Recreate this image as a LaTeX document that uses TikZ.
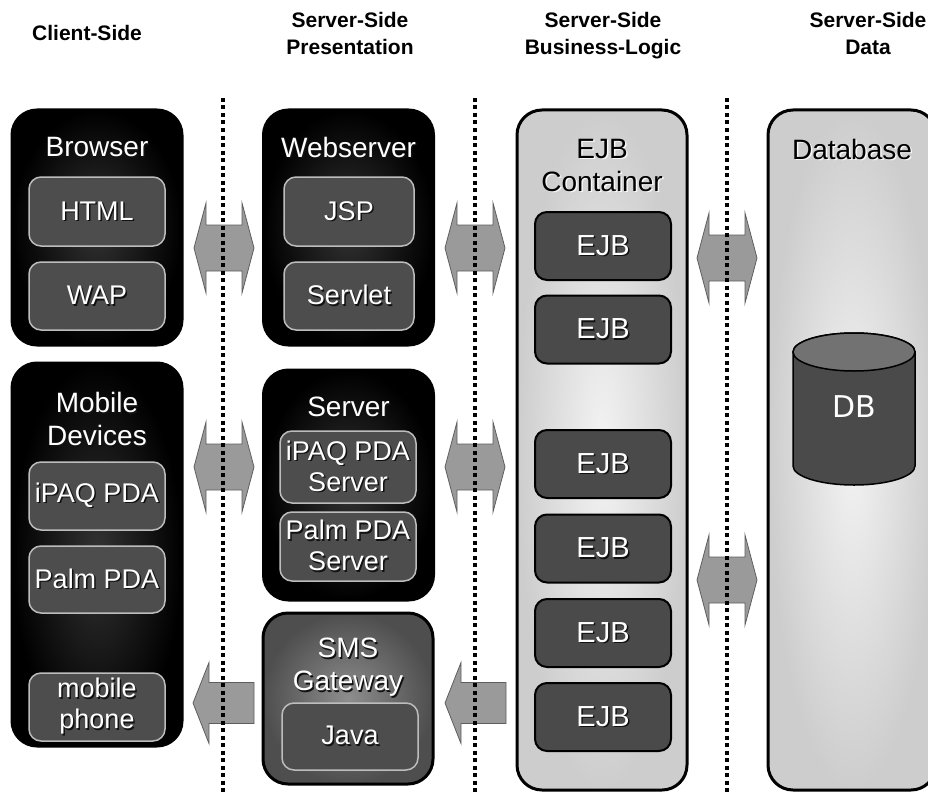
\documentclass[tikz,border=0pt]{standalone}
\usepackage{fontspec}
\setmainfont{Liberation Sans}
\newfontfamily\dbfont{DejaVu Sans}
\usetikzlibrary{calc}

\definecolor{darkcore}{HTML}{333333}
\definecolor{innerfill}{HTML}{4D4D4D}
\definecolor{innerline}{HTML}{BDBDBD}
\definecolor{smsouter}{HTML}{4E4E4E}
\definecolor{smsinner}{HTML}{8E8E8E}
\definecolor{lightouter}{HTML}{CDCDCD}
\definecolor{lightinner}{HTML}{F3F3F3}
\definecolor{ejbfill}{HTML}{4A4A4A}
\definecolor{arrowfill}{HTML}{9A9A9A}
\definecolor{arrowline}{HTML}{5E5E5E}
\definecolor{darkshadow}{HTML}{111111}
\definecolor{lightshadow}{HTML}{F8F8F8}
\definecolor{dbbody}{HTML}{4A4A4A}
\definecolor{dbtop}{HTML}{727272}

% text with a small drop shadow: #1 shadow colour, #2 text
\newcommand\shd[2]{\leavevmode\rlap{\kern1.5pt\raisebox{-1.5pt}{\textcolor{#1}{#2}}}#2}
\newcommand\wt[1]{\shd{darkshadow}{#1}}
\newcommand\bt[1]{\shd{lightshadow}{#1}}

\tikzset{
  tierbox/.style={draw=black, line width=3pt, rounded corners=25pt,
    minimum width=170pt},
  darkbox/.style={tierbox, inner color=darkcore, outer color=black},
  smsbox/.style={tierbox, inner color=smsinner, outer color=smsouter},
  lightbox/.style={tierbox, inner color=lightinner, outer color=lightouter},
  innerbox/.style={draw=innerline, line width=1.5pt, fill=innerfill,
    rounded corners=12pt, minimum width=136pt, text=white, align=center,
    inner sep=0pt, font=\fontsize{27pt}{31pt}\selectfont},
  ejbbox/.style={draw=black, line width=2pt, fill=ejbfill,
    rounded corners=12pt, minimum width=136pt, minimum height=68pt,
    text=white, inner sep=0pt, font=\fontsize{29pt}{31pt}\selectfont},
  title/.style={text=white, align=center, inner sep=0pt,
    font=\fontsize{28pt}{33pt}\selectfont},
  darktitle/.style={title, text=black},
  header/.style={align=center, inner sep=0pt,
    font=\fontsize{21pt}{27pt}\selectfont\bfseries},
  fatarrow/.style={fill=arrowfill, draw=arrowline, line width=0.8pt},
  sepline/.style={line width=3.5pt, dash pattern=on 4pt off 3.5pt},
  pics/dblarrow/.style={code={
    \draw[fatarrow] (-30,0) -- (-18,-45) -- (-18,-23) -- (18,-23)
      -- (18,-45) -- (30,0) -- (18,45) -- (18,23) -- (-18,23)
      -- (-18,45) -- cycle;}},
  pics/leftarrow/.style={code={
    \draw[fatarrow] (0,0) -- (16,-40.5) -- (16,-20.5) -- (61,-20.5)
      -- (61,20.5) -- (16,20.5) -- (16,40.5) -- cycle;}},
}

\begin{document}
\begin{tikzpicture}[x=1pt,y=-1pt]
\useasboundingbox (0,0) rectangle (928,797);

% column headers
\node[header] (hclient) at (87,33) {Client-Side};
\node[header] (hpres) at (350,33) {Server-Side\\Presentation};
\node[header] (hbiz) at (603,36) {Server-Side\\Business-Logic};
\node[header] (hdata) at (868,33) {Server-Side\\Data};

% client tier
\node[darkbox, minimum height=235pt] (browser) at (97,227.5) {};
\node[title] (browsert) at (97,148) {\wt{Browser}};
\node[innerbox, minimum height=69pt] (html) at (97,211.5) {\wt{HTML}};
\node[innerbox, minimum height=68pt] (wap) at (97,296) {\wt{WAP}};

\node[darkbox, minimum height=383pt] (mobile) at (97,554.5) {};
\node[title] (mobilet) at (97,420) {\wt{Mobile}\\\wt{Devices}};
\node[innerbox, minimum height=68pt] (ipaq) at (97,496) {\wt{iPAQ PDA}};
\node[innerbox, minimum height=67pt] (palm) at (97,579.5) {\wt{Palm PDA}};
\node[innerbox, minimum height=68pt] (phone) at (97,707) {\wt{mobile}\\\wt{phone}};

% presentation tier
\node[darkbox, minimum height=235pt] (web) at (348.5,227.5) {};
\node[title] (webt) at (348.5,148) {\wt{Webserver}};
\node[innerbox, minimum height=69pt, minimum width=130pt] (jsp) at (349,211.5) {\wt{JSP}};
\node[innerbox, minimum height=68pt, minimum width=130pt] (servlet) at (349,296) {\wt{Servlet}};

\node[darkbox, minimum height=230pt] (server) at (348.5,485) {};
\node[title] (servert) at (348.5,408) {\wt{Server}};
\node[innerbox, minimum height=72pt] (ipaqs) at (348,467) {\wt{iPAQ PDA}\\\wt{Server}};
\node[innerbox, minimum height=69pt] (palms) at (348,546.5) {\wt{Palm PDA}\\\wt{Server}};

\node[smsbox, minimum height=171pt] (sms) at (348,698.5) {};
\node[title] (smst) at (348,668) {\wt{SMS}\\\wt{Gateway}};
\node[innerbox, minimum height=67pt] (java) at (350,736.5) {\wt{Java}};

% business-logic tier
\node[lightbox, minimum height=680pt] (ejbc) at (602,450) {};
\node[darktitle] (ejbct) at (602,166) {\bt{EJB}\\\bt{Container}};
\node[ejbbox] (ejb1) at (603,246) {\wt{EJB}};
\node[ejbbox] (ejb2) at (603,329.5) {\wt{EJB}};
\node[ejbbox] (ejb3) at (603,464) {\wt{EJB}};
\node[ejbbox] (ejb4) at (603,548.5) {\wt{EJB}};
\node[ejbbox] (ejb5) at (603,633) {\wt{EJB}};
\node[ejbbox] (ejb6) at (603,717) {\wt{EJB}};

% data tier
\node[lightbox, minimum height=680pt, minimum width=168pt] (dbase) at (852,450) {};
\node[darktitle] (dbaset) at (852,150) {\bt{Database}};
\draw[fill=dbbody, line width=1.5pt] (793,352) -- (793,466)
  arc[start angle=180, end angle=0, x radius=61, y radius=19]
  -- (915,352) arc[start angle=0, end angle=-180, x radius=61, y radius=19]
  -- cycle;
\draw[fill=dbtop, line width=1.5pt] (854,352) ellipse[x radius=61, y radius=19];
\node[text=white, inner sep=0pt, font=\dbfont\fontsize{30pt}{34pt}\selectfont] (dblabel) at (854,407) {DB};

% transfer arrows between tiers
\pic at (224,248) {dblarrow};
\pic at (475,248) {dblarrow};
\pic at (224,467) {dblarrow};
\pic at (475,467) {dblarrow};
\pic at (727,258) {dblarrow};
\pic at (727,580) {dblarrow};
\pic at (193,703) {leftarrow};
\pic at (445,703) {leftarrow};

% tier separators
\coordinate (s1top) at (223,98);
\coordinate (s1bot) at (223,792);
\coordinate (s2top) at (475,98);
\coordinate (s2bot) at (475,792);
\coordinate (s3top) at (727,98);
\coordinate (s3bot) at (727,792);
\draw[sepline] (s1top) -- (s1bot);
\draw[sepline] (s2top) -- (s2bot);
\draw[sepline] (s3top) -- (s3bot);
\end{tikzpicture}
\end{document}
